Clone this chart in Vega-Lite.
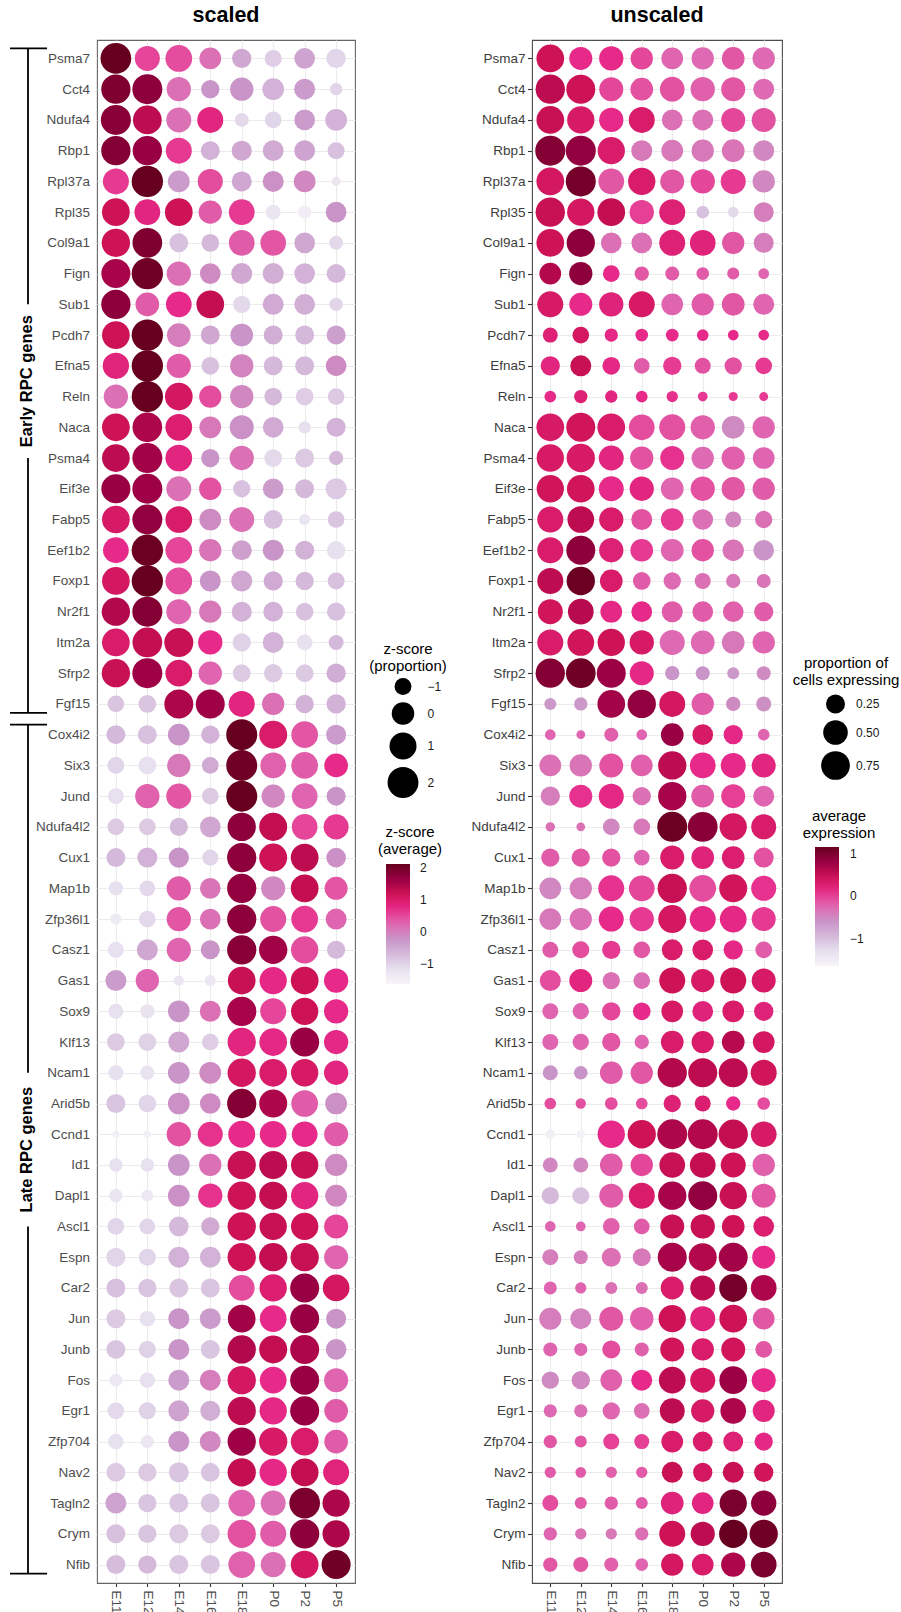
{
"$schema":"https://vega.github.io/schema/vega-lite/v6.json",
"background":"white",
"padding":{"left":0,"top":3,"right":0,"bottom":0},
"autosize":{"type":"pad"},
"config":{
 "font":"Liberation Sans",
 "view":{"stroke":null},
 "axis":{"labelFont":"Liberation Sans","labelFontSize":13.5,"labelColor":"#4d4d4d","domain":false,"grid":true,"gridColor":"#ebebeb","gridWidth":1.1,"labelOverlap":false,"tickColor":"#333333","tickWidth":1.1},
 "legend":{"labelFont":"Liberation Sans","titleFont":"Liberation Sans","labelFontSize":12,"labelColor":"#1a1a1a","titleFontSize":15,"titleFontWeight":"normal","titleColor":"#000000","titleAnchor":"middle","titleAlign":"center","titleLineHeight":17,"titleLimit":300},
 "title":{"font":"Liberation Sans","fontSize":21.5,"fontWeight":"bold","color":"#000000","frame":"group","anchor":"middle","offset":14}
},
"datasets":{
"brackets":[
 {"group":"Early RPC genes","first":"Psma7","above":"Sub1","mid":"Reln","below":"Psma4","last":"Fgf15"},
 {"group":"Late RPC genes","first":"Cox4i2","above":"Ncam1","mid":"Id1","below":"Ascl1","last":"Nfib"}
],
"dots":[
{"gene":"Psma7","time":"E11","zprop":1.95,"zavg":2.12,"prop":0.682,"avg":0.46},
{"gene":"Psma7","time":"E12","zprop":0.53,"zavg":0.53,"prop":0.418,"avg":0.11},
{"gene":"Psma7","time":"E14","zprop":0.92,"zavg":0.48,"prop":0.483,"avg":0.11},
{"gene":"Psma7","time":"E16","zprop":-0.16,"zavg":0.15,"prop":0.385,"avg":-0.03},
{"gene":"Psma7","time":"E18","zprop":-0.61,"zavg":-0.46,"prop":0.358,"avg":-0.24},
{"gene":"Psma7","time":"P0","zprop":-0.98,"zavg":-0.93,"prop":0.385,"avg":-0.275},
{"gene":"Psma7","time":"P2","zprop":-0.36,"zavg":-0.41,"prop":0.404,"avg":-0.135},
{"gene":"Psma7","time":"P5","zprop":-0.61,"zavg":-1.02,"prop":0.385,"avg":-0.275},
{"gene":"Cct4","time":"E11","zprop":1.57,"zavg":1.89,"prop":0.79,"avg":0.565},
{"gene":"Cct4","time":"E12","zprop":1.76,"zavg":1.745,"prop":0.769,"avg":0.46},
{"gene":"Cct4","time":"E14","zprop":0.37,"zavg":0.15,"prop":0.468,"avg":-0.03},
{"gene":"Cct4","time":"E16","zprop":-0.78,"zavg":-0.22,"prop":0.404,"avg":-0.1},
{"gene":"Cct4","time":"E18","zprop":0.16,"zavg":-0.22,"prop":0.503,"avg":-0.1},
{"gene":"Cct4","time":"P0","zprop":-0.16,"zavg":-0.6,"prop":0.483,"avg":-0.205},
{"gene":"Cct4","time":"P2","zprop":-0.3,"zavg":-0.32,"prop":0.468,"avg":-0.135},
{"gene":"Cct4","time":"P5","zprop":-1.6,"zavg":-1.02,"prop":0.328,"avg":-0.275},
{"gene":"Ndufa4","time":"E11","zprop":1.76,"zavg":1.79,"prop":0.682,"avg":0.495},
{"gene":"Ndufa4","time":"E12","zprop":1.42,"zavg":1.32,"prop":0.657,"avg":0.355},
{"gene":"Ndufa4","time":"E14","zprop":0.53,"zavg":0.15,"prop":0.483,"avg":0.11},
{"gene":"Ndufa4","time":"E16","zprop":0.76,"zavg":0.81,"prop":0.578,"avg":0.32},
{"gene":"Ndufa4","time":"E18","zprop":-1.4,"zavg":-1.07,"prop":0.316,"avg":-0.31},
{"gene":"Ndufa4","time":"P0","zprop":-1.03,"zavg":-1.02,"prop":0.328,"avg":-0.31},
{"gene":"Ndufa4","time":"P2","zprop":-0.36,"zavg":-0.32,"prop":0.468,"avg":-0.03},
{"gene":"Ndufa4","time":"P5","zprop":-0.16,"zavg":-0.6,"prop":0.468,"avg":-0.1},
{"gene":"Rbp1","time":"E11","zprop":1.57,"zavg":1.84,"prop":0.84,"avg":0.95},
{"gene":"Rbp1","time":"E12","zprop":1.57,"zavg":1.65,"prop":0.84,"avg":0.845},
{"gene":"Rbp1","time":"E14","zprop":0.76,"zavg":0.62,"prop":0.657,"avg":0.32},
{"gene":"Rbp1","time":"E16","zprop":-0.66,"zavg":-0.6,"prop":0.328,"avg":-0.38},
{"gene":"Rbp1","time":"E18","zprop":-0.48,"zavg":-0.46,"prop":0.358,"avg":-0.38},
{"gene":"Rbp1","time":"P0","zprop":-0.36,"zavg":-0.505,"prop":0.385,"avg":-0.38},
{"gene":"Rbp1","time":"P2","zprop":-0.36,"zavg":-0.41,"prop":0.404,"avg":-0.345},
{"gene":"Rbp1","time":"P5","zprop":-0.98,"zavg":-0.79,"prop":0.328,"avg":-0.485},
{"gene":"Rpl37a","time":"E11","zprop":0.76,"zavg":0.62,"prop":0.682,"avg":0.39},
{"gene":"Rpl37a","time":"E12","zprop":2.12,"zavg":2.12,"prop":0.84,"avg":1.055},
{"gene":"Rpl37a","time":"E14","zprop":-0.16,"zavg":-0.32,"prop":0.561,"avg":-0.135},
{"gene":"Rpl37a","time":"E16","zprop":0.53,"zavg":0.48,"prop":0.657,"avg":0.32},
{"gene":"Rpl37a","time":"E18","zprop":-0.48,"zavg":-0.46,"prop":0.468,"avg":-0.135},
{"gene":"Rpl37a","time":"P0","zprop":-0.3,"zavg":-0.18,"prop":0.483,"avg":-0.03},
{"gene":"Rpl37a","time":"P2","zprop":-0.16,"zavg":-0.08,"prop":0.522,"avg":0.04},
{"gene":"Rpl37a","time":"P5","zprop":-1.91,"zavg":-1.255,"prop":0.385,"avg":-0.485},
{"gene":"Rpl35","time":"E11","zprop":1.17,"zavg":1.18,"prop":0.79,"avg":0.495},
{"gene":"Rpl35","time":"E12","zprop":0.69,"zavg":0.81,"prop":0.657,"avg":0.39},
{"gene":"Rpl35","time":"E14","zprop":1.17,"zavg":1.18,"prop":0.682,"avg":0.53},
{"gene":"Rpl35","time":"E16","zprop":0.16,"zavg":0.34,"prop":0.483,"avg":0.005},
{"gene":"Rpl35","time":"E18","zprop":0.69,"zavg":0.62,"prop":0.578,"avg":0.25},
{"gene":"Rpl35","time":"P0","zprop":-1.27,"zavg":-1.255,"prop":0.077,"avg":-1.01},
{"gene":"Rpl35","time":"P2","zprop":-1.48,"zavg":-1.44,"prop":0.044,"avg":-1.22},
{"gene":"Rpl35","time":"P5","zprop":-0.36,"zavg":-0.22,"prop":0.287,"avg":-0.415},
{"gene":"Col9a1","time":"E11","zprop":1.32,"zavg":1.18,"prop":0.682,"avg":0.46},
{"gene":"Col9a1","time":"E12","zprop":1.68,"zavg":1.89,"prop":0.722,"avg":0.88},
{"gene":"Col9a1","time":"E14","zprop":-0.66,"zavg":-0.79,"prop":0.316,"avg":-0.31},
{"gene":"Col9a1","time":"E16","zprop":-0.87,"zavg":-0.69,"prop":0.316,"avg":-0.31},
{"gene":"Col9a1","time":"E18","zprop":0.69,"zavg":0.34,"prop":0.578,"avg":0.25},
{"gene":"Col9a1","time":"P0","zprop":0.69,"zavg":0.39,"prop":0.561,"avg":0.215},
{"gene":"Col9a1","time":"P2","zprop":-0.36,"zavg":-0.46,"prop":0.385,"avg":-0.135},
{"gene":"Col9a1","time":"P5","zprop":-1.4,"zavg":-1.07,"prop":0.287,"avg":-0.415},
{"gene":"Fign","time":"E11","zprop":1.5,"zavg":1.51,"prop":0.358,"avg":0.635},
{"gene":"Fign","time":"E12","zprop":2.12,"zavg":2.03,"prop":0.432,"avg":0.88},
{"gene":"Fign","time":"E14","zprop":0.37,"zavg":0.15,"prop":0.175,"avg":0.11},
{"gene":"Fign","time":"E16","zprop":-0.36,"zavg":-0.13,"prop":0.112,"avg":-0.135},
{"gene":"Fign","time":"E18","zprop":-0.3,"zavg":-0.46,"prop":0.105,"avg":-0.17},
{"gene":"Fign","time":"P0","zprop":-0.3,"zavg":-0.55,"prop":0.077,"avg":-0.17},
{"gene":"Fign","time":"P2","zprop":-0.36,"zavg":-0.6,"prop":0.065,"avg":-0.17},
{"gene":"Fign","time":"P5","zprop":-0.66,"zavg":-0.69,"prop":0.044,"avg":-0.24},
{"gene":"Sub1","time":"E11","zprop":1.57,"zavg":1.745,"prop":0.578,"avg":0.355},
{"gene":"Sub1","time":"E12","zprop":0.24,"zavg":0.34,"prop":0.418,"avg":0.11},
{"gene":"Sub1","time":"E14","zprop":0.69,"zavg":0.71,"prop":0.483,"avg":0.215},
{"gene":"Sub1","time":"E16","zprop":1.17,"zavg":1.28,"prop":0.578,"avg":0.355},
{"gene":"Sub1","time":"E18","zprop":-0.94,"zavg":-1.07,"prop":0.358,"avg":-0.24},
{"gene":"Sub1","time":"P0","zprop":-0.3,"zavg":-0.505,"prop":0.385,"avg":-0.17},
{"gene":"Sub1","time":"P2","zprop":-0.36,"zavg":-0.55,"prop":0.404,"avg":-0.135},
{"gene":"Sub1","time":"P5","zprop":-1.48,"zavg":-1.02,"prop":0.328,"avg":-0.24},
{"gene":"Pcdh7","time":"E11","zprop":1.17,"zavg":1.18,"prop":0.128,"avg":0.25},
{"gene":"Pcdh7","time":"E12","zprop":2.12,"zavg":2.12,"prop":0.175,"avg":0.39},
{"gene":"Pcdh7","time":"E14","zprop":0.24,"zavg":0.01,"prop":0.09,"avg":0.145},
{"gene":"Pcdh7","time":"E16","zprop":-0.66,"zavg":-0.46,"prop":0.077,"avg":0.11},
{"gene":"Pcdh7","time":"E18","zprop":0.03,"zavg":-0.22,"prop":0.077,"avg":0.11},
{"gene":"Pcdh7","time":"P0","zprop":-0.66,"zavg":-0.55,"prop":0.059,"avg":0.11},
{"gene":"Pcdh7","time":"P2","zprop":-0.66,"zavg":-0.69,"prop":0.044,"avg":0.11},
{"gene":"Pcdh7","time":"P5","zprop":-0.66,"zavg":-0.36,"prop":0.044,"avg":0.11},
{"gene":"Efna5","time":"E11","zprop":0.83,"zavg":0.85,"prop":0.261,"avg":0.18},
{"gene":"Efna5","time":"E12","zprop":2.12,"zavg":2.12,"prop":0.328,"avg":0.495},
{"gene":"Efna5","time":"E14","zprop":0.37,"zavg":0.34,"prop":0.205,"avg":0.145},
{"gene":"Efna5","time":"E16","zprop":-0.87,"zavg":-0.79,"prop":0.146,"avg":-0.17},
{"gene":"Efna5","time":"E18","zprop":0.16,"zavg":-0.04,"prop":0.226,"avg":0.04},
{"gene":"Efna5","time":"P0","zprop":-0.66,"zavg":-0.69,"prop":0.155,"avg":-0.1},
{"gene":"Efna5","time":"P2","zprop":-0.66,"zavg":-0.69,"prop":0.193,"avg":-0.1},
{"gene":"Efna5","time":"P5","zprop":-0.36,"zavg":-0.13,"prop":0.175,"avg":0.04},
{"gene":"Reln","time":"E11","zprop":0.37,"zavg":0.15,"prop":0.059,"avg":0.11},
{"gene":"Reln","time":"E12","zprop":2.12,"zavg":2.12,"prop":0.09,"avg":0.25},
{"gene":"Reln","time":"E14","zprop":1.17,"zavg":1.09,"prop":0.071,"avg":0.18},
{"gene":"Reln","time":"E16","zprop":-0.05,"zavg":0.48,"prop":0.059,"avg":0.11},
{"gene":"Reln","time":"E18","zprop":0.16,"zavg":-0.08,"prop":0.053,"avg":0.075},
{"gene":"Reln","time":"P0","zprop":-0.87,"zavg":-0.69,"prop":0.031,"avg":0.04},
{"gene":"Reln","time":"P2","zprop":-0.87,"zavg":-0.93,"prop":0.024,"avg":0.04},
{"gene":"Reln","time":"P5","zprop":-1.03,"zavg":-0.88,"prop":0.022,"avg":0.04},
{"gene":"Naca","time":"E11","zprop":1.17,"zavg":1.18,"prop":0.682,"avg":0.355},
{"gene":"Naca","time":"E12","zprop":1.68,"zavg":1.46,"prop":0.769,"avg":0.425},
{"gene":"Naca","time":"E14","zprop":0.92,"zavg":0.95,"prop":0.682,"avg":0.32},
{"gene":"Naca","time":"E16","zprop":-0.16,"zavg":0.06,"prop":0.561,"avg":-0.065},
{"gene":"Naca","time":"E18","zprop":0.31,"zavg":-0.18,"prop":0.578,"avg":-0.1},
{"gene":"Naca","time":"P0","zprop":-0.36,"zavg":-0.505,"prop":0.483,"avg":-0.205},
{"gene":"Naca","time":"P2","zprop":-1.6,"zavg":-1.16,"prop":0.404,"avg":-0.52},
{"gene":"Naca","time":"P5","zprop":-0.66,"zavg":-0.6,"prop":0.385,"avg":-0.24},
{"gene":"Psma4","time":"E11","zprop":1.17,"zavg":1.32,"prop":0.657,"avg":0.355},
{"gene":"Psma4","time":"E12","zprop":1.76,"zavg":1.56,"prop":0.722,"avg":0.355},
{"gene":"Psma4","time":"E14","zprop":0.92,"zavg":0.81,"prop":0.522,"avg":0.18},
{"gene":"Psma4","time":"E16","zprop":-0.78,"zavg":-0.22,"prop":0.432,"avg":-0.1},
{"gene":"Psma4","time":"E18","zprop":0.37,"zavg":0.15,"prop":0.468,"avg":0.075},
{"gene":"Psma4","time":"P0","zprop":-0.87,"zavg":-1.07,"prop":0.385,"avg":-0.275},
{"gene":"Psma4","time":"P2","zprop":-0.66,"zavg":-0.88,"prop":0.432,"avg":-0.205},
{"gene":"Psma4","time":"P5","zprop":-1.36,"zavg":-0.69,"prop":0.358,"avg":-0.24},
{"gene":"Eif3e","time":"E11","zprop":1.5,"zavg":1.65,"prop":0.657,"avg":0.425},
{"gene":"Eif3e","time":"E12","zprop":1.76,"zavg":1.6,"prop":0.682,"avg":0.425},
{"gene":"Eif3e","time":"E14","zprop":0.53,"zavg":0.15,"prop":0.522,"avg":0.11},
{"gene":"Eif3e","time":"E16","zprop":-0.05,"zavg":0.43,"prop":0.483,"avg":0.18},
{"gene":"Eif3e","time":"E18","zprop":-0.94,"zavg":-0.79,"prop":0.404,"avg":-0.24},
{"gene":"Eif3e","time":"P0","zprop":-0.36,"zavg":-0.32,"prop":0.483,"avg":-0.1},
{"gene":"Eif3e","time":"P2","zprop":-0.66,"zavg":-0.69,"prop":0.432,"avg":-0.135},
{"gene":"Eif3e","time":"P5","zprop":-0.3,"zavg":-0.88,"prop":0.385,"avg":-0.17},
{"gene":"Fabp5","time":"E11","zprop":1.17,"zavg":1.04,"prop":0.578,"avg":0.32},
{"gene":"Fabp5","time":"E12","zprop":1.76,"zavg":1.7,"prop":0.62,"avg":0.565},
{"gene":"Fabp5","time":"E14","zprop":0.92,"zavg":1.0,"prop":0.483,"avg":0.32},
{"gene":"Fabp5","time":"E16","zprop":-0.16,"zavg":-0.13,"prop":0.328,"avg":-0.1},
{"gene":"Fabp5","time":"E18","zprop":0.53,"zavg":0.15,"prop":0.404,"avg":0.04},
{"gene":"Fabp5","time":"P0","zprop":-0.66,"zavg":-0.79,"prop":0.316,"avg":-0.31},
{"gene":"Fabp5","time":"P2","zprop":-1.74,"zavg":-1.255,"prop":0.155,"avg":-0.485},
{"gene":"Fabp5","time":"P5","zprop":-1.03,"zavg":-0.83,"prop":0.193,"avg":-0.31},
{"gene":"Eef1b2","time":"E11","zprop":0.69,"zavg":0.71,"prop":0.578,"avg":0.32},
{"gene":"Eef1b2","time":"E12","zprop":2.15,"zavg":2.07,"prop":0.769,"avg":0.88},
{"gene":"Eef1b2","time":"E14","zprop":0.92,"zavg":0.53,"prop":0.483,"avg":0.25},
{"gene":"Eef1b2","time":"E16","zprop":-0.05,"zavg":0.1,"prop":0.404,"avg":0.04},
{"gene":"Eef1b2","time":"E18","zprop":-0.48,"zavg":-0.36,"prop":0.404,"avg":-0.24},
{"gene":"Eef1b2","time":"P0","zprop":-0.3,"zavg":-0.22,"prop":0.385,"avg":-0.1},
{"gene":"Eef1b2","time":"P2","zprop":-0.66,"zavg":-0.6,"prop":0.341,"avg":-0.345},
{"gene":"Eef1b2","time":"P5","zprop":-0.78,"zavg":-1.16,"prop":0.316,"avg":-0.59},
{"gene":"Foxp1","time":"E11","zprop":1.17,"zavg":1.09,"prop":0.578,"avg":0.565},
{"gene":"Foxp1","time":"E12","zprop":2.12,"zavg":2.12,"prop":0.722,"avg":1.125},
{"gene":"Foxp1","time":"E14","zprop":0.92,"zavg":0.48,"prop":0.404,"avg":0.32},
{"gene":"Foxp1","time":"E16","zprop":-0.3,"zavg":-0.22,"prop":0.205,"avg":-0.17},
{"gene":"Foxp1","time":"E18","zprop":-0.3,"zavg":-0.46,"prop":0.193,"avg":-0.275},
{"gene":"Foxp1","time":"P0","zprop":-0.61,"zavg":-0.505,"prop":0.155,"avg":-0.31},
{"gene":"Foxp1","time":"P2","zprop":-0.78,"zavg":-0.69,"prop":0.112,"avg":-0.38},
{"gene":"Foxp1","time":"P5","zprop":-0.98,"zavg":-0.79,"prop":0.105,"avg":-0.345},
{"gene":"Nr2f1","time":"E11","zprop":1.32,"zavg":1.42,"prop":0.522,"avg":0.425},
{"gene":"Nr2f1","time":"E12","zprop":1.76,"zavg":1.84,"prop":0.561,"avg":0.6},
{"gene":"Nr2f1","time":"E14","zprop":0.53,"zavg":0.245,"prop":0.358,"avg":0.145},
{"gene":"Nr2f1","time":"E16","zprop":-0.05,"zavg":0.06,"prop":0.316,"avg":0.11},
{"gene":"Nr2f1","time":"E18","zprop":-0.48,"zavg":-0.6,"prop":0.328,"avg":-0.17},
{"gene":"Nr2f1","time":"P0","zprop":-0.54,"zavg":-0.6,"prop":0.316,"avg":-0.17},
{"gene":"Nr2f1","time":"P2","zprop":-0.87,"zavg":-0.79,"prop":0.316,"avg":-0.205},
{"gene":"Nr2f1","time":"P5","zprop":-0.78,"zavg":-0.79,"prop":0.261,"avg":-0.17},
{"gene":"Itm2a","time":"E11","zprop":1.17,"zavg":1.0,"prop":0.578,"avg":0.32},
{"gene":"Itm2a","time":"E12","zprop":1.68,"zavg":1.28,"prop":0.62,"avg":0.425},
{"gene":"Itm2a","time":"E14","zprop":1.5,"zavg":1.23,"prop":0.657,"avg":0.46},
{"gene":"Itm2a","time":"E16","zprop":0.37,"zavg":0.71,"prop":0.483,"avg":0.355},
{"gene":"Itm2a","time":"E18","zprop":-0.78,"zavg":-0.97,"prop":0.522,"avg":-0.275},
{"gene":"Itm2a","time":"P0","zprop":-0.3,"zavg":-0.6,"prop":0.452,"avg":-0.275},
{"gene":"Itm2a","time":"P2","zprop":-1.17,"zavg":-1.16,"prop":0.404,"avg":-0.38},
{"gene":"Itm2a","time":"P5","zprop":-1.27,"zavg":-0.69,"prop":0.385,"avg":-0.24},
{"gene":"Sfrp2","time":"E11","zprop":1.32,"zavg":1.23,"prop":0.79,"avg":0.95},
{"gene":"Sfrp2","time":"E12","zprop":1.76,"zavg":1.6,"prop":0.818,"avg":1.09},
{"gene":"Sfrp2","time":"E14","zprop":0.92,"zavg":1.0,"prop":0.769,"avg":0.775},
{"gene":"Sfrp2","time":"E16","zprop":0.16,"zavg":0.245,"prop":0.468,"avg":0.145},
{"gene":"Sfrp2","time":"E18","zprop":-0.87,"zavg":-0.88,"prop":0.112,"avg":-0.59},
{"gene":"Sfrp2","time":"P0","zprop":-0.78,"zavg":-0.88,"prop":0.105,"avg":-0.59},
{"gene":"Sfrp2","time":"P2","zprop":-0.87,"zavg":-0.88,"prop":0.065,"avg":-0.625},
{"gene":"Sfrp2","time":"P5","zprop":-0.61,"zavg":-0.55,"prop":0.105,"avg":-0.52},
{"gene":"Fgf15","time":"E11","zprop":-1.03,"zavg":-0.83,"prop":0.065,"avg":-0.625},
{"gene":"Fgf15","time":"E12","zprop":-0.87,"zavg":-0.83,"prop":0.09,"avg":-0.625},
{"gene":"Fgf15","time":"E14","zprop":1.5,"zavg":1.46,"prop":0.682,"avg":0.74},
{"gene":"Fgf15","time":"E16","zprop":1.5,"zavg":1.6,"prop":0.722,"avg":0.845},
{"gene":"Fgf15","time":"E18","zprop":0.76,"zavg":0.81,"prop":0.578,"avg":0.39},
{"gene":"Fgf15","time":"P0","zprop":-0.05,"zavg":0.15,"prop":0.385,"avg":-0.17},
{"gene":"Fgf15","time":"P2","zprop":-0.78,"zavg":-0.6,"prop":0.112,"avg":-0.52},
{"gene":"Fgf15","time":"P5","zprop":-0.61,"zavg":-0.6,"prop":0.128,"avg":-0.555},
{"gene":"Cox4i2","time":"E11","zprop":-0.66,"zavg":-0.69,"prop":0.044,"avg":-0.24},
{"gene":"Cox4i2","time":"E12","zprop":-0.66,"zavg":-0.79,"prop":0.02,"avg":-0.24},
{"gene":"Cox4i2","time":"E14","zprop":-0.16,"zavg":-0.22,"prop":0.105,"avg":-0.205},
{"gene":"Cox4i2","time":"E16","zprop":-0.78,"zavg":-0.6,"prop":0.044,"avg":-0.24},
{"gene":"Cox4i2","time":"E18","zprop":2.03,"zavg":2.12,"prop":0.404,"avg":0.81},
{"gene":"Cox4i2","time":"P0","zprop":1.24,"zavg":1.0,"prop":0.316,"avg":0.355},
{"gene":"Cox4i2","time":"P2","zprop":0.92,"zavg":0.39,"prop":0.261,"avg":0.145},
{"gene":"Cox4i2","time":"P5","zprop":-0.48,"zavg":-0.32,"prop":0.059,"avg":-0.24},
{"gene":"Six3","time":"E11","zprop":-1.03,"zavg":-1.02,"prop":0.358,"avg":-0.31},
{"gene":"Six3","time":"E12","zprop":-0.87,"zavg":-1.16,"prop":0.385,"avg":-0.345},
{"gene":"Six3","time":"E14","zprop":0.16,"zavg":0.06,"prop":0.468,"avg":-0.1},
{"gene":"Six3","time":"E16","zprop":-1.03,"zavg":-0.505,"prop":0.358,"avg":-0.205},
{"gene":"Six3","time":"E18","zprop":2.03,"zavg":2.03,"prop":0.722,"avg":0.565},
{"gene":"Six3","time":"P0","zprop":0.69,"zavg":0.29,"prop":0.561,"avg":0.11},
{"gene":"Six3","time":"P2","zprop":0.92,"zavg":0.34,"prop":0.522,"avg":0.11},
{"gene":"Six3","time":"P5","zprop":0.24,"zavg":0.71,"prop":0.468,"avg":0.18},
{"gene":"Jund","time":"E11","zprop":-1.13,"zavg":-1.16,"prop":0.261,"avg":-0.415},
{"gene":"Jund","time":"E12","zprop":0.37,"zavg":0.29,"prop":0.418,"avg":0.075},
{"gene":"Jund","time":"E14","zprop":0.53,"zavg":0.39,"prop":0.522,"avg":0.145},
{"gene":"Jund","time":"E16","zprop":-1.03,"zavg":-0.88,"prop":0.226,"avg":-0.31},
{"gene":"Jund","time":"E18","zprop":2.03,"zavg":2.12,"prop":0.722,"avg":0.705},
{"gene":"Jund","time":"P0","zprop":0.16,"zavg":-0.08,"prop":0.404,"avg":-0.17},
{"gene":"Jund","time":"P2","zprop":0.69,"zavg":0.245,"prop":0.468,"avg":0.005},
{"gene":"Jund","time":"P5","zprop":-0.66,"zavg":-0.22,"prop":0.328,"avg":-0.24},
{"gene":"Ndufa4l2","time":"E11","zprop":-1.03,"zavg":-0.88,"prop":0.028,"avg":-0.31},
{"gene":"Ndufa4l2","time":"E12","zprop":-1.03,"zavg":-0.88,"prop":0.02,"avg":-0.31},
{"gene":"Ndufa4l2","time":"E14","zprop":-0.78,"zavg":-0.69,"prop":0.175,"avg":-0.485},
{"gene":"Ndufa4l2","time":"E16","zprop":-0.36,"zavg":-0.46,"prop":0.175,"avg":-0.38},
{"gene":"Ndufa4l2","time":"E18","zprop":1.32,"zavg":1.745,"prop":0.84,"avg":1.125},
{"gene":"Ndufa4l2","time":"P0","zprop":1.24,"zavg":1.28,"prop":0.82,"avg":0.915},
{"gene":"Ndufa4l2","time":"P2","zprop":0.69,"zavg":0.53,"prop":0.657,"avg":0.39},
{"gene":"Ndufa4l2","time":"P5","zprop":0.53,"zavg":0.62,"prop":0.522,"avg":0.32},
{"gene":"Cux1","time":"E11","zprop":-0.66,"zavg":-0.69,"prop":0.226,"avg":-0.17},
{"gene":"Cux1","time":"E12","zprop":-0.48,"zavg":-0.6,"prop":0.226,"avg":-0.135},
{"gene":"Cux1","time":"E14","zprop":-0.43,"zavg":-0.22,"prop":0.226,"avg":-0.1},
{"gene":"Cux1","time":"E16","zprop":-1.13,"zavg":-1.02,"prop":0.146,"avg":-0.24},
{"gene":"Cux1","time":"E18","zprop":1.57,"zavg":1.745,"prop":0.468,"avg":0.32},
{"gene":"Cux1","time":"P0","zprop":1.24,"zavg":1.18,"prop":0.404,"avg":0.215},
{"gene":"Cux1","time":"P2","zprop":1.17,"zavg":1.32,"prop":0.404,"avg":0.285},
{"gene":"Cux1","time":"P5","zprop":-0.54,"zavg":-0.18,"prop":0.287,"avg":-0.1},
{"gene":"Map1b","time":"E11","zprop":-1.36,"zavg":-1.16,"prop":0.358,"avg":-0.485},
{"gene":"Map1b","time":"E12","zprop":-1.17,"zavg":-1.07,"prop":0.385,"avg":-0.415},
{"gene":"Map1b","time":"E14","zprop":0.37,"zavg":0.34,"prop":0.578,"avg":0.075},
{"gene":"Map1b","time":"E16","zprop":-0.36,"zavg":0.1,"prop":0.561,"avg":-0.03},
{"gene":"Map1b","time":"E18","zprop":1.57,"zavg":1.7,"prop":0.79,"avg":0.495},
{"gene":"Map1b","time":"P0","zprop":0.31,"zavg":-0.08,"prop":0.62,"avg":-0.065},
{"gene":"Map1b","time":"P2","zprop":1.17,"zavg":1.28,"prop":0.702,"avg":0.425},
{"gene":"Map1b","time":"P5","zprop":0.1,"zavg":0.39,"prop":0.522,"avg":0.075},
{"gene":"Zfp36l1","time":"E11","zprop":-1.71,"zavg":-1.4,"prop":0.358,"avg":-0.38},
{"gene":"Zfp36l1","time":"E12","zprop":-1.03,"zavg":-1.07,"prop":0.385,"avg":-0.31},
{"gene":"Zfp36l1","time":"E14","zprop":0.37,"zavg":0.39,"prop":0.522,"avg":0.11},
{"gene":"Zfp36l1","time":"E16","zprop":-0.36,"zavg":0.15,"prop":0.483,"avg":0.04},
{"gene":"Zfp36l1","time":"E18","zprop":1.57,"zavg":1.745,"prop":0.702,"avg":0.39},
{"gene":"Zfp36l1","time":"P0","zprop":0.76,"zavg":0.43,"prop":0.578,"avg":0.145},
{"gene":"Zfp36l1","time":"P2","zprop":0.92,"zavg":0.62,"prop":0.62,"avg":0.145},
{"gene":"Zfp36l1","time":"P5","zprop":-0.3,"zavg":0.245,"prop":0.468,"avg":0.04},
{"gene":"Casz1","time":"E11","zprop":-1.13,"zavg":-1.16,"prop":0.155,"avg":-0.17},
{"gene":"Casz1","time":"E12","zprop":-0.3,"zavg":-0.46,"prop":0.184,"avg":-0.065},
{"gene":"Casz1","time":"E14","zprop":0.37,"zavg":0.245,"prop":0.226,"avg":0.04},
{"gene":"Casz1","time":"E16","zprop":-0.66,"zavg":-0.22,"prop":0.175,"avg":-0.135},
{"gene":"Casz1","time":"E18","zprop":1.57,"zavg":1.79,"prop":0.328,"avg":0.32},
{"gene":"Casz1","time":"P0","zprop":1.32,"zavg":1.56,"prop":0.316,"avg":0.32},
{"gene":"Casz1","time":"P2","zprop":1.07,"zavg":0.48,"prop":0.261,"avg":0.145},
{"gene":"Casz1","time":"P5","zprop":-0.78,"zavg":-0.69,"prop":0.175,"avg":-0.17},
{"gene":"Gas1","time":"E11","zprop":-0.3,"zavg":-0.32,"prop":0.328,"avg":-0.065},
{"gene":"Gas1","time":"E12","zprop":0.16,"zavg":0.245,"prop":0.418,"avg":0.18},
{"gene":"Gas1","time":"E14","zprop":-1.8,"zavg":-1.255,"prop":0.193,"avg":-0.31},
{"gene":"Gas1","time":"E16","zprop":-1.74,"zavg":-1.3,"prop":0.175,"avg":-0.31},
{"gene":"Gas1","time":"E18","zprop":1.17,"zavg":1.23,"prop":0.578,"avg":0.46},
{"gene":"Gas1","time":"P0","zprop":1.07,"zavg":0.76,"prop":0.432,"avg":0.355},
{"gene":"Gas1","time":"P2","zprop":1.17,"zavg":1.18,"prop":0.578,"avg":0.46},
{"gene":"Gas1","time":"P5","zprop":0.37,"zavg":0.71,"prop":0.468,"avg":0.355},
{"gene":"Sox9","time":"E11","zprop":-1.27,"zavg":-1.16,"prop":0.155,"avg":-0.24},
{"gene":"Sox9","time":"E12","zprop":-1.36,"zavg":-1.21,"prop":0.164,"avg":-0.24},
{"gene":"Sox9","time":"E14","zprop":-0.16,"zavg":-0.22,"prop":0.226,"avg":-0.03},
{"gene":"Sox9","time":"E16","zprop":-0.3,"zavg":0.15,"prop":0.205,"avg":0.11},
{"gene":"Sox9","time":"E18","zprop":1.57,"zavg":1.51,"prop":0.358,"avg":0.355},
{"gene":"Sox9","time":"P0","zprop":0.76,"zavg":0.53,"prop":0.316,"avg":0.215},
{"gene":"Sox9","time":"P2","zprop":1.07,"zavg":1.18,"prop":0.358,"avg":0.32},
{"gene":"Sox9","time":"P5","zprop":0.37,"zavg":0.71,"prop":0.261,"avg":0.215},
{"gene":"Klf13","time":"E11","zprop":-0.87,"zavg":-0.88,"prop":0.155,"avg":-0.24},
{"gene":"Klf13","time":"E12","zprop":-0.87,"zavg":-0.97,"prop":0.164,"avg":-0.24},
{"gene":"Klf13","time":"E14","zprop":-0.3,"zavg":-0.46,"prop":0.226,"avg":-0.135},
{"gene":"Klf13","time":"E16","zprop":-1.03,"zavg":-0.93,"prop":0.112,"avg":-0.24},
{"gene":"Klf13","time":"E18","zprop":1.32,"zavg":0.81,"prop":0.404,"avg":0.32},
{"gene":"Klf13","time":"P0","zprop":1.17,"zavg":0.76,"prop":0.385,"avg":0.32},
{"gene":"Klf13","time":"P2","zprop":1.5,"zavg":1.65,"prop":0.404,"avg":0.6},
{"gene":"Klf13","time":"P5","zprop":0.37,"zavg":0.76,"prop":0.358,"avg":0.39},
{"gene":"Ncam1","time":"E11","zprop":-1.27,"zavg":-1.16,"prop":0.128,"avg":-0.59},
{"gene":"Ncam1","time":"E12","zprop":-1.36,"zavg":-1.21,"prop":0.098,"avg":-0.59},
{"gene":"Ncam1","time":"E14","zprop":-0.16,"zavg":-0.22,"prop":0.404,"avg":-0.17},
{"gene":"Ncam1","time":"E16","zprop":-0.16,"zavg":-0.13,"prop":0.385,"avg":-0.135},
{"gene":"Ncam1","time":"E18","zprop":1.32,"zavg":1.09,"prop":0.79,"avg":0.635},
{"gene":"Ncam1","time":"P0","zprop":1.17,"zavg":1.0,"prop":0.769,"avg":0.565},
{"gene":"Ncam1","time":"P2","zprop":1.07,"zavg":1.04,"prop":0.769,"avg":0.565},
{"gene":"Ncam1","time":"P5","zprop":0.37,"zavg":0.81,"prop":0.578,"avg":0.425},
{"gene":"Arid5b","time":"E11","zprop":-0.66,"zavg":-0.83,"prop":0.059,"avg":-0.065},
{"gene":"Arid5b","time":"E12","zprop":-0.87,"zavg":-1.02,"prop":0.039,"avg":-0.1},
{"gene":"Arid5b","time":"E14","zprop":-0.16,"zavg":-0.18,"prop":0.077,"avg":-0.065},
{"gene":"Arid5b","time":"E16","zprop":-0.36,"zavg":-0.13,"prop":0.059,"avg":-0.065},
{"gene":"Arid5b","time":"E18","zprop":1.57,"zavg":1.84,"prop":0.193,"avg":0.25},
{"gene":"Arid5b","time":"P0","zprop":1.24,"zavg":1.46,"prop":0.155,"avg":0.285},
{"gene":"Arid5b","time":"P2","zprop":0.92,"zavg":0.34,"prop":0.112,"avg":0.11},
{"gene":"Arid5b","time":"P5","zprop":-0.16,"zavg":-0.18,"prop":0.077,"avg":-0.065},
{"gene":"Ccnd1","time":"E11","zprop":-2.05,"zavg":-1.49,"prop":0.028,"avg":-1.535},
{"gene":"Ccnd1","time":"E12","zprop":-2.05,"zavg":-1.49,"prop":0.02,"avg":-1.57},
{"gene":"Ccnd1","time":"E14","zprop":0.37,"zavg":0.43,"prop":0.657,"avg":0.11},
{"gene":"Ccnd1","time":"E16","zprop":0.53,"zavg":0.67,"prop":0.722,"avg":0.46},
{"gene":"Ccnd1","time":"E18","zprop":0.99,"zavg":0.71,"prop":0.84,"avg":0.67},
{"gene":"Ccnd1","time":"P0","zprop":0.92,"zavg":0.71,"prop":0.83,"avg":0.635},
{"gene":"Ccnd1","time":"P2","zprop":0.69,"zavg":0.71,"prop":0.79,"avg":0.53},
{"gene":"Ccnd1","time":"P5","zprop":0.31,"zavg":0.34,"prop":0.561,"avg":0.355},
{"gene":"Id1","time":"E11","zprop":-1.48,"zavg":-1.16,"prop":0.128,"avg":-0.485},
{"gene":"Id1","time":"E12","zprop":-1.48,"zavg":-1.16,"prop":0.128,"avg":-0.485},
{"gene":"Id1","time":"E14","zprop":-0.16,"zavg":-0.22,"prop":0.404,"avg":-0.17},
{"gene":"Id1","time":"E16","zprop":-0.05,"zavg":0.15,"prop":0.385,"avg":-0.03},
{"gene":"Id1","time":"E18","zprop":1.32,"zavg":1.23,"prop":0.561,"avg":0.495},
{"gene":"Id1","time":"P0","zprop":1.24,"zavg":1.32,"prop":0.561,"avg":0.53},
{"gene":"Id1","time":"P2","zprop":1.07,"zavg":1.23,"prop":0.522,"avg":0.46},
{"gene":"Id1","time":"P5","zprop":-0.05,"zavg":-0.13,"prop":0.385,"avg":-0.205},
{"gene":"Dapl1","time":"E11","zprop":-1.48,"zavg":-1.255,"prop":0.193,"avg":-0.94},
{"gene":"Dapl1","time":"E12","zprop":-1.66,"zavg":-1.3,"prop":0.184,"avg":-1.01},
{"gene":"Dapl1","time":"E14","zprop":-0.16,"zavg":-0.18,"prop":0.468,"avg":-0.17},
{"gene":"Dapl1","time":"E16","zprop":0.37,"zavg":0.67,"prop":0.578,"avg":0.32},
{"gene":"Dapl1","time":"E18","zprop":1.32,"zavg":1.18,"prop":0.722,"avg":0.705},
{"gene":"Dapl1","time":"P0","zprop":1.24,"zavg":1.28,"prop":0.769,"avg":0.845},
{"gene":"Dapl1","time":"P2","zprop":1.07,"zavg":0.81,"prop":0.657,"avg":0.495},
{"gene":"Dapl1","time":"P5","zprop":-0.16,"zavg":-0.08,"prop":0.468,"avg":-0.135},
{"gene":"Ascl1","time":"E11","zprop":-1.03,"zavg":-1.02,"prop":0.044,"avg":-0.24},
{"gene":"Ascl1","time":"E12","zprop":-1.17,"zavg":-1.02,"prop":0.031,"avg":-0.24},
{"gene":"Ascl1","time":"E14","zprop":-0.54,"zavg":-0.69,"prop":0.175,"avg":-0.205},
{"gene":"Ascl1","time":"E16","zprop":-0.78,"zavg":-0.505,"prop":0.146,"avg":-0.17},
{"gene":"Ascl1","time":"E18","zprop":1.32,"zavg":1.18,"prop":0.468,"avg":0.495},
{"gene":"Ascl1","time":"P0","zprop":1.07,"zavg":1.23,"prop":0.483,"avg":0.495},
{"gene":"Ascl1","time":"P2","zprop":1.07,"zavg":1.18,"prop":0.404,"avg":0.46},
{"gene":"Ascl1","time":"P5","zprop":0.31,"zavg":0.53,"prop":0.316,"avg":0.285},
{"gene":"Espn","time":"E11","zprop":-0.66,"zavg":-1.02,"prop":0.155,"avg":-0.415},
{"gene":"Espn","time":"E12","zprop":-0.98,"zavg":-1.02,"prop":0.105,"avg":-0.415},
{"gene":"Espn","time":"E14","zprop":-0.3,"zavg":-0.6,"prop":0.25,"avg":-0.31},
{"gene":"Espn","time":"E16","zprop":-0.3,"zavg":-0.6,"prop":0.215,"avg":-0.38},
{"gene":"Espn","time":"E18","zprop":1.32,"zavg":1.18,"prop":0.769,"avg":0.705},
{"gene":"Espn","time":"P0","zprop":1.32,"zavg":1.28,"prop":0.702,"avg":0.635},
{"gene":"Espn","time":"P2","zprop":1.32,"zavg":1.23,"prop":0.769,"avg":0.74},
{"gene":"Espn","time":"P5","zprop":0.31,"zavg":0.245,"prop":0.418,"avg":0.11},
{"gene":"Car2","time":"E11","zprop":-0.66,"zavg":-0.79,"prop":0.084,"avg":-0.24},
{"gene":"Car2","time":"E12","zprop":-0.78,"zavg":-0.83,"prop":0.053,"avg":-0.24},
{"gene":"Car2","time":"E14","zprop":-0.66,"zavg":-0.83,"prop":0.065,"avg":-0.31},
{"gene":"Car2","time":"E16","zprop":-0.66,"zavg":-0.83,"prop":0.065,"avg":-0.31},
{"gene":"Car2","time":"E18","zprop":0.69,"zavg":0.48,"prop":0.418,"avg":0.32},
{"gene":"Car2","time":"P0","zprop":1.07,"zavg":0.95,"prop":0.522,"avg":0.565},
{"gene":"Car2","time":"P2","zprop":1.5,"zavg":1.65,"prop":0.702,"avg":1.055},
{"gene":"Car2","time":"P5","zprop":0.92,"zavg":1.09,"prop":0.561,"avg":0.67},
{"gene":"Jun","time":"E11","zprop":-0.66,"zavg":-0.88,"prop":0.372,"avg":-0.415},
{"gene":"Jun","time":"E12","zprop":-1.2,"zavg":-1.16,"prop":0.328,"avg":-0.45},
{"gene":"Jun","time":"E14","zprop":-0.3,"zavg":-0.22,"prop":0.468,"avg":-0.135},
{"gene":"Jun","time":"E16","zprop":-0.3,"zavg":-0.32,"prop":0.44,"avg":-0.205},
{"gene":"Jun","time":"E18","zprop":1.17,"zavg":1.56,"prop":0.657,"avg":0.46},
{"gene":"Jun","time":"P0","zprop":0.92,"zavg":0.71,"prop":0.522,"avg":0.215},
{"gene":"Jun","time":"P2","zprop":1.5,"zavg":1.65,"prop":0.682,"avg":0.46},
{"gene":"Jun","time":"P5","zprop":-0.48,"zavg":-0.22,"prop":0.358,"avg":-0.135},
{"gene":"Junb","time":"E11","zprop":-0.66,"zavg":-0.83,"prop":0.105,"avg":-0.24},
{"gene":"Junb","time":"E12","zprop":-0.98,"zavg":-0.97,"prop":0.084,"avg":-0.24},
{"gene":"Junb","time":"E14","zprop":-0.3,"zavg":-0.22,"prop":0.215,"avg":-0.065},
{"gene":"Junb","time":"E16","zprop":-0.66,"zavg":-0.83,"prop":0.105,"avg":-0.205},
{"gene":"Junb","time":"E18","zprop":1.32,"zavg":1.42,"prop":0.468,"avg":0.425},
{"gene":"Junb","time":"P0","zprop":1.24,"zavg":1.28,"prop":0.385,"avg":0.32},
{"gene":"Junb","time":"P2","zprop":1.5,"zavg":1.46,"prop":0.468,"avg":0.425},
{"gene":"Junb","time":"P5","zprop":-0.36,"zavg":-0.22,"prop":0.175,"avg":-0.135},
{"gene":"Fos","time":"E11","zprop":-1.52,"zavg":-1.35,"prop":0.193,"avg":-0.52},
{"gene":"Fos","time":"E12","zprop":-1.2,"zavg":-1.16,"prop":0.226,"avg":-0.485},
{"gene":"Fos","time":"E14","zprop":-0.3,"zavg":-0.32,"prop":0.358,"avg":-0.205},
{"gene":"Fos","time":"E16","zprop":-0.3,"zavg":0.01,"prop":0.328,"avg":0.11},
{"gene":"Fos","time":"E18","zprop":1.32,"zavg":1.09,"prop":0.62,"avg":0.565},
{"gene":"Fos","time":"P0","zprop":0.92,"zavg":0.71,"prop":0.522,"avg":0.39},
{"gene":"Fos","time":"P2","zprop":1.5,"zavg":1.65,"prop":0.682,"avg":0.775},
{"gene":"Fos","time":"P5","zprop":0.31,"zavg":0.245,"prop":0.468,"avg":0.11},
{"gene":"Egr1","time":"E11","zprop":-1.03,"zavg":-1.07,"prop":0.09,"avg":-0.275},
{"gene":"Egr1","time":"E12","zprop":-0.98,"zavg":-0.97,"prop":0.09,"avg":-0.31},
{"gene":"Egr1","time":"E14","zprop":-0.3,"zavg":-0.41,"prop":0.193,"avg":-0.24},
{"gene":"Egr1","time":"E16","zprop":-0.48,"zavg":-0.55,"prop":0.146,"avg":-0.31},
{"gene":"Egr1","time":"E18","zprop":1.32,"zavg":1.32,"prop":0.522,"avg":0.565},
{"gene":"Egr1","time":"P0","zprop":1.07,"zavg":0.76,"prop":0.432,"avg":0.355},
{"gene":"Egr1","time":"P2","zprop":1.5,"zavg":1.65,"prop":0.561,"avg":0.67},
{"gene":"Egr1","time":"P5","zprop":0.24,"zavg":0.34,"prop":0.372,"avg":0.18},
{"gene":"Zfp704","time":"E11","zprop":-1.2,"zavg":-1.16,"prop":0.09,"avg":-0.135},
{"gene":"Zfp704","time":"E12","zprop":-1.52,"zavg":-1.3,"prop":0.065,"avg":-0.135},
{"gene":"Zfp704","time":"E14","zprop":-0.3,"zavg":-0.22,"prop":0.155,"avg":0.005},
{"gene":"Zfp704","time":"E16","zprop":-0.3,"zavg":-0.08,"prop":0.128,"avg":0.005},
{"gene":"Zfp704","time":"E18","zprop":1.32,"zavg":1.6,"prop":0.358,"avg":0.32},
{"gene":"Zfp704","time":"P0","zprop":1.32,"zavg":1.04,"prop":0.287,"avg":0.32},
{"gene":"Zfp704","time":"P2","zprop":1.17,"zavg":1.0,"prop":0.287,"avg":0.25},
{"gene":"Zfp704","time":"P5","zprop":0.24,"zavg":0.34,"prop":0.226,"avg":0.145},
{"gene":"Nav2","time":"E11","zprop":-0.66,"zavg":-0.88,"prop":0.053,"avg":-0.17},
{"gene":"Nav2","time":"E12","zprop":-0.78,"zavg":-0.88,"prop":0.044,"avg":-0.17},
{"gene":"Nav2","time":"E14","zprop":-0.48,"zavg":-0.83,"prop":0.053,"avg":-0.205},
{"gene":"Nav2","time":"E16","zprop":-0.66,"zavg":-0.83,"prop":0.053,"avg":-0.17},
{"gene":"Nav2","time":"E18","zprop":1.32,"zavg":1.28,"prop":0.328,"avg":0.495},
{"gene":"Nav2","time":"P0","zprop":1.07,"zavg":0.76,"prop":0.261,"avg":0.39},
{"gene":"Nav2","time":"P2","zprop":1.17,"zavg":1.28,"prop":0.328,"avg":0.495},
{"gene":"Nav2","time":"P5","zprop":0.76,"zavg":0.85,"prop":0.261,"avg":0.425},
{"gene":"Tagln2","time":"E11","zprop":-0.3,"zavg":-0.41,"prop":0.155,"avg":-0.065},
{"gene":"Tagln2","time":"E12","zprop":-0.78,"zavg":-0.83,"prop":0.065,"avg":-0.17},
{"gene":"Tagln2","time":"E14","zprop":-0.66,"zavg":-0.83,"prop":0.09,"avg":-0.17},
{"gene":"Tagln2","time":"E16","zprop":-0.66,"zavg":-0.83,"prop":0.065,"avg":-0.17},
{"gene":"Tagln2","time":"E18","zprop":0.92,"zavg":0.245,"prop":0.404,"avg":0.215},
{"gene":"Tagln2","time":"P0","zprop":0.53,"zavg":0.15,"prop":0.358,"avg":0.18},
{"gene":"Tagln2","time":"P2","zprop":1.95,"zavg":1.93,"prop":0.657,"avg":1.02},
{"gene":"Tagln2","time":"P5","zprop":1.07,"zavg":1.46,"prop":0.539,"avg":0.88},
{"gene":"Crym","time":"E11","zprop":-0.66,"zavg":-0.79,"prop":0.09,"avg":-0.24},
{"gene":"Crym","time":"E12","zprop":-0.78,"zavg":-0.83,"prop":0.053,"avg":-0.31},
{"gene":"Crym","time":"E14","zprop":-0.66,"zavg":-0.88,"prop":0.053,"avg":-0.38},
{"gene":"Crym","time":"E16","zprop":-0.66,"zavg":-0.88,"prop":0.09,"avg":-0.31},
{"gene":"Crym","time":"E18","zprop":1.32,"zavg":0.43,"prop":0.578,"avg":0.46},
{"gene":"Crym","time":"P0","zprop":0.76,"zavg":0.34,"prop":0.483,"avg":0.565},
{"gene":"Crym","time":"P2","zprop":1.57,"zavg":1.745,"prop":0.722,"avg":1.16},
{"gene":"Crym","time":"P5","zprop":1.07,"zavg":1.46,"prop":0.722,"avg":1.09},
{"gene":"Nfib","time":"E11","zprop":-0.66,"zavg":-0.74,"prop":0.112,"avg":-0.135},
{"gene":"Nfib","time":"E12","zprop":-0.78,"zavg":-0.69,"prop":0.128,"avg":-0.135},
{"gene":"Nfib","time":"E14","zprop":-0.66,"zavg":-0.83,"prop":0.105,"avg":-0.205},
{"gene":"Nfib","time":"E16","zprop":-0.66,"zavg":-0.83,"prop":0.077,"avg":-0.24},
{"gene":"Nfib","time":"E18","zprop":0.92,"zavg":0.29,"prop":0.385,"avg":0.39},
{"gene":"Nfib","time":"P0","zprop":0.53,"zavg":0.15,"prop":0.358,"avg":0.32},
{"gene":"Nfib","time":"P2","zprop":1.17,"zavg":1.09,"prop":0.483,"avg":0.67},
{"gene":"Nfib","time":"P5","zprop":1.5,"zavg":2.03,"prop":0.561,"avg":1.02}
]
},
"bounds":"flush",
"spacing":47,
"resolve":{"scale":{"x":"independent","y":"independent","color":"independent","size":"independent"}},
"hconcat":[
  {
   "width":50,"height":1543,
   "view":{"stroke":null},
   "data":{"name":"brackets"},
   "layer":[
    {"mark":{"type":"rule","yOffset":-10,"strokeWidth":1.8,"color":"#000000"},
     "encoding":{
      "x":{"datum":0.56,"type":"quantitative","scale":{"domain":[0,1]},"axis":null},
      "y":{"field":"first","type":"nominal","scale":{"type":"point","padding":0.6,"domain":["Psma7","Cct4","Ndufa4","Rbp1","Rpl37a","Rpl35","Col9a1","Fign","Sub1","Pcdh7","Efna5","Reln","Naca","Psma4","Eif3e","Fabp5","Eef1b2","Foxp1","Nr2f1","Itm2a","Sfrp2","Fgf15","Cox4i2","Six3","Jund","Ndufa4l2","Cux1","Map1b","Zfp36l1","Casz1","Gas1","Sox9","Klf13","Ncam1","Arid5b","Ccnd1","Id1","Dapl1","Ascl1","Espn","Car2","Jun","Junb","Fos","Egr1","Zfp704","Nav2","Tagln2","Crym","Nfib"]},"axis":null},
      "y2":{"field":"above"}}},
    {"mark":{"type":"rule","y2Offset":9,"strokeWidth":1.8,"color":"#000000"},
     "encoding":{
      "x":{"datum":0.56,"type":"quantitative"},
      "y":{"field":"below","type":"nominal"},
      "y2":{"field":"last"}}},
    {"mark":{"type":"rule","yOffset":-10,"strokeWidth":1.8,"color":"#000000"},
     "encoding":{
      "x":{"datum":0.2,"type":"quantitative"},
      "x2":{"datum":0.94},
      "y":{"field":"first","type":"nominal"}}},
    {"mark":{"type":"rule","yOffset":9,"strokeWidth":1.8,"color":"#000000"},
     "encoding":{
      "x":{"datum":0.2,"type":"quantitative"},
      "x2":{"datum":0.94},
      "y":{"field":"last","type":"nominal"}}},
    {"mark":{"type":"text","angle":270,"fontSize":16.5,"fontWeight":"bold","font":"Liberation Sans","color":"#000000","align":"center","baseline":"middle","yOffset":-15.37},
     "encoding":{
      "x":{"datum":0.54,"type":"quantitative"},
      "y":{"field":"mid","type":"nominal"},
      "text":{"field":"group","type":"nominal"}}}
   ]
  },
  {
   "width":258,"height":1543,
   "title":{"text":"scaled"},
   "view":{"stroke":"#666666","strokeWidth":1.1},
   "data":{"name":"dots"},
   "mark":{"type":"circle","opacity":1},
   "encoding":{
    "x":{"field":"time","type":"ordinal","sort":["E11","E12","E14","E16","E18","P0","P2","P5"],"scale":{"type":"point","padding":0.6},
         "axis":{"title":null,"orient":"bottom","labelAngle":90,"labelAlign":"left","labelBaseline":"middle","tickSize":3.5,"labelPadding":3.5}},
    "y":{"field":"gene","type":"nominal","sort":["Psma7","Cct4","Ndufa4","Rbp1","Rpl37a","Rpl35","Col9a1","Fign","Sub1","Pcdh7","Efna5","Reln","Naca","Psma4","Eif3e","Fabp5","Eef1b2","Foxp1","Nr2f1","Itm2a","Sfrp2","Fgf15","Cox4i2","Six3","Jund","Ndufa4l2","Cux1","Map1b","Zfp36l1","Casz1","Gas1","Sox9","Klf13","Ncam1","Arid5b","Ccnd1","Id1","Dapl1","Ascl1","Espn","Car2","Jun","Junb","Fos","Egr1","Zfp704","Nav2","Tagln2","Crym","Nfib"],
         "scale":{"type":"point","padding":0.6},
         "axis":{"title":null,"ticks":false,"labelPadding":7.5}},
    "size":{"field":"zprop","type":"quantitative","scale":{"type":"linear","domain":[-2.05,2.15],"range":[51,987],"zero":false},
            "legend":{"title":["z-score","(proportion)"],"orient":"none","legendX":272,"legendY":602,"direction":"vertical","values":[-1,0,1,2],"symbolType":"circle","symbolFillColor":"#000000","symbolStrokeColor":"#000000","symbolStrokeWidth":0,"symbolOpacity":1,"symbolOffset":13.5,"labelOffset":9,"rowPadding":7,"titlePadding":4}},
    "color":{"field":"zavg","type":"quantitative",
             "scale":{"domain":[-1.63,-1.16125,-0.6925,-0.22375,0.245,0.71375,1.1825,1.65125,2.12],"range":["#f7f4f9","#e7e1ef","#d4b9da","#c994c7","#df65b0","#e7298a","#ce1256","#980043","#67001f"],"interpolate":"lab"},
             "legend":{"title":["z-score","(average)"],"orient":"none","legendX":281,"legendY":785,"direction":"vertical","values":[-1,0,1,2],"gradientLength":120,"gradientThickness":24,"gradientStrokeWidth":0,"labelOffset":10,"titlePadding":7}}
   }
  },
  {
   "width":83,"height":1543,
   "view":{"stroke":null},
   "data":{"values":[]},
   "mark":{"type":"point","opacity":0},
   "encoding":{}
  },
  {
   "width":250,"height":1543,
   "title":{"text":"unscaled"},
   "view":{"stroke":"#4d4d4d","strokeWidth":1.1},
   "data":{"name":"dots"},
   "mark":{"type":"circle","opacity":1},
   "encoding":{
    "x":{"field":"time","type":"ordinal","sort":["E11","E12","E14","E16","E18","P0","P2","P5"],"scale":{"type":"point","padding":0.6},
         "axis":{"title":null,"orient":"bottom","labelAngle":90,"labelAlign":"left","labelBaseline":"middle","tickSize":3.5,"labelPadding":3.5}},
    "y":{"field":"gene","type":"nominal","sort":["Psma7","Cct4","Ndufa4","Rbp1","Rpl37a","Rpl35","Col9a1","Fign","Sub1","Pcdh7","Efna5","Reln","Naca","Psma4","Eif3e","Fabp5","Eef1b2","Foxp1","Nr2f1","Itm2a","Sfrp2","Fgf15","Cox4i2","Six3","Jund","Ndufa4l2","Cux1","Map1b","Zfp36l1","Casz1","Gas1","Sox9","Klf13","Ncam1","Arid5b","Ccnd1","Id1","Dapl1","Ascl1","Espn","Car2","Jun","Junb","Fos","Egr1","Zfp704","Nav2","Tagln2","Crym","Nfib"],
         "scale":{"type":"point","padding":0.6},
         "axis":{"title":null,"ticks":true,"tickSize":4.5,"labelPadding":2.5,"labelColor":"#3d3d3d"}},
    "size":{"field":"prop","type":"quantitative","scale":{"type":"pow","exponent":0.8,"domain":[0.02,0.84],"range":[76,900],"zero":false},
            "legend":{"title":["proportion of","cells expressing"],"orient":"none","legendX":261,"legendY":616,"direction":"vertical","values":[0.25,0.5,0.75],"format":".2f","symbolType":"circle","symbolFillColor":"#000000","symbolStrokeColor":"#000000","symbolStrokeWidth":0,"symbolOpacity":1,"symbolOffset":8,"labelOffset":6,"rowPadding":6,"titlePadding":6}},
    "color":{"field":"avg","type":"quantitative",
             "scale":{"domain":[-1.64,-1.29,-0.94,-0.59,-0.24,0.11,0.46,0.81,1.16],"range":["#f7f4f9","#e7e1ef","#d4b9da","#c994c7","#df65b0","#e7298a","#ce1256","#980043","#67001f"],"interpolate":"lab"},
             "legend":{"title":["average","expression"],"orient":"none","legendX":271,"legendY":769,"direction":"vertical","values":[-1,0,1],"gradientLength":119,"gradientThickness":24,"gradientStrokeWidth":0,"labelOffset":11,"titlePadding":6}}
   }
  }
]
}
